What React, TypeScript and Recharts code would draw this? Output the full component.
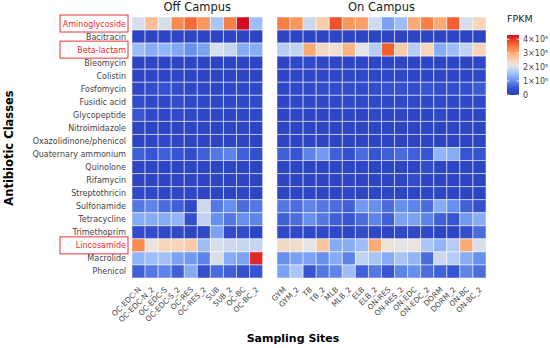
import { ScatterChart, Scatter, XAxis, YAxis } from "recharts";

// FPKM values are in units of 1e4
const classes = [
  "Aminoglycoside", "Bacitracin", "Beta-lactam", "Bleomycin", "Colistin",
  "Fosfomycin", "Fusidic acid", "Glycopeptide", "Nitroimidazole",
  "Oxazolidinone/phenicol", "Quaternary ammonium", "Quinolone", "Rifamycin",
  "Streptothricin", "Sulfonamide", "Tetracycline", "Trimethoprim",
  "Lincosamide", "Macrolide", "Phenicol",
];
const highlighted = ["Aminoglycoside", "Beta-lactam", "Lincosamide"];

const offSites = [
  "OC-EDC-N", "OC-EDC-N_2", "OC-EDC-S", "OC-EDC-S_2", "OC-RES",
  "OC-RES_2", "SUB", "SUB_2", "OC-BC", "OC-BC_2",
];
const onSites = [
  "GYM", "GYM_2", "TB", "TB_2", "MLB", "MLB_2", "ELB", "ELB_2",
  "ON-RES", "ON-RES_2", "ON-EDC", "ON-EDC_2", "DORM", "DORM_2", "ON-BC", "ON-BC_2",
];

const offValues = [
  [20, 28, 20, 33, 36, 32, 16, 34, 43, 15],
  [1, 1, 1, 1, 1, 1, 1, 1, 1, 1],
  [15, 13, 14, 12.5, 10, 12, 20, 18.5, 13, 13],
  [1, 1.5, 1, 1, 1, 1, 1, 1, 1, 1],
  [1.5, 1.5, 1, 1.5, 1.5, 1, 1, 1, 1, 1],
  [2, 3, 4, 3, 2, 2, 1.5, 2, 2, 2],
  [3, 2, 2, 3, 2, 2, 2, 2, 2, 2.5],
  [5, 2.5, 2, 2.5, 2, 2, 2, 1.5, 2, 2],
  [1, 1, 1, 1, 1, 1, 1, 1, 1, 1],
  [1.5, 1.5, 2.5, 1.5, 1, 1, 1, 1.5, 1, 1],
  [6, 5, 6, 5, 3, 6, 8, 9, 6, 4],
  [1.5, 1.5, 1, 1, 1, 1.5, 1, 1.5, 1, 1],
  [1, 1, 1, 1, 1, 1, 1, 1, 1, 1],
  [2, 2, 1.5, 2, 1.5, 1.5, 1, 1, 1.5, 1],
  [8, 9, 7, 6, 2, 19, 8, 10, 7, 8],
  [13, 13, 13, 14, 4, 18, 10, 8, 10, 9],
  [3, 3, 2, 2, 1, 2, 12, 3, 3, 1],
  [33, 22, 25, 25, 26, 15, 20, 19, 18.5, 18.5],
  [14, 15, 15.5, 12, 11, 9, 20, 13, 12, 41],
  [6, 8, 9, 6, 13, 4, 7, 6, 4, 5],
];

const onValues = [
  [34, 32, 19, 26, 38, 32, 31, 19.5, 12, 15, 30, 34, 30, 37, 20, 25],
  [1, 1, 1, 1, 1, 1, 1, 1, 1, 1, 1, 1, 1, 1, 1, 1],
  [17, 18, 30, 24, 23, 29, 21, 17, 37, 26, 17, 25, 13, 15, 18, 25],
  [1, 2, 2.5, 2, 1.5, 1.5, 1.5, 1.5, 1.5, 1.5, 1, 1.5, 1, 1.5, 1, 1.5],
  [1.5, 1.5, 2, 2, 1.5, 2, 2, 1.5, 2, 2, 1.5, 1.5, 1.5, 1.5, 1.5, 2],
  [2, 2, 2.5, 3, 2.5, 3, 2.5, 3, 4, 4, 3, 5, 3, 3.5, 3.5, 5.5],
  [1.5, 2, 2, 2, 2, 2.5, 2, 2, 2, 2, 2, 2, 2, 2, 2, 2],
  [1.5, 1.5, 1.5, 1.5, 1.5, 1.5, 1.5, 2, 1.5, 1.5, 1.5, 1.5, 2, 1.5, 1.5, 1.5],
  [1, 1, 1, 1, 1, 1, 1, 1, 1, 1, 1, 1, 1, 1, 1, 1],
  [1, 1, 1.5, 1, 1, 1, 1.5, 1, 1, 1, 1, 1.5, 1, 1, 1, 1],
  [6, 5, 9, 11, 6, 4, 7, 5, 6, 7, 6, 5, 14, 13, 5, 5],
  [1, 1, 1, 1, 1, 1, 1.5, 1, 1, 1, 1, 3, 1, 1, 1, 1],
  [1, 1, 1, 1, 1, 1.5, 1, 1, 1, 1, 3, 1, 1, 1, 1, 1],
  [1, 1, 1.5, 1, 1, 1.5, 1, 1.5, 1, 1, 1.5, 1, 1, 1, 1, 1],
  [8, 7, 9, 8, 7, 6, 11, 10, 7, 10, 9, 7, 13, 10, 6, 4],
  [6, 7, 10, 8, 6, 5, 7, 9, 6, 12, 12, 9, 6, 5, 11, 13],
  [2, 2, 2, 2, 2, 1, 3, 2, 1, 2, 2, 2, 1, 1, 4, 7],
  [24, 23.5, 21, 27, 13, 13, 15, 30, 22.5, 21, 22, 16, 14, 17, 30, 20],
  [10, 12, 12, 10, 13, 9, 18, 16, 13, 16, 14, 7, 19, 17, 13, 10],
  [12, 16, 5, 8, 9, 15, 6, 8, 5, 9, 10, 7, 6, 5, 9, 7],
];

const legendTicks = [0, 10, 20, 30, 40];
const legendLabels = ["0", "1×10⁵", "2×10⁵", "3×10⁵", "4×10⁵"];
const maxValue = 43;

// colour stops (value, colour)
const stops: [number, string][] = [
  [0, "#2a40bf"],
  [5, "#3754d2"],
  [10, "#6690ee"],
  [14, "#92b5f8"],
  [18, "#c2d3f2"],
  [21.5, "#e8e6e6"],
  [25, "#f8d4b8"],
  [29, "#f9b585"],
  [33, "#f88b4e"],
  [37, "#f2602f"],
  [43, "#d40d1f"],
];

function hex(c: string) {
  return [1, 3, 5].map((i) => parseInt(c.slice(i, i + 2), 16));
}

function colorFor(v: number) {
  if (v <= stops[0][0]) return stops[0][1];
  for (let i = 1; i < stops.length; i++) {
    if (v <= stops[i][0]) {
      const [v0, c0] = stops[i - 1];
      const [v1, c1] = stops[i];
      const t = (v - v0) / (v1 - v0);
      const a = hex(c0);
      const b = hex(c1);
      const m = a.map((x, k) => Math.round(x + (b[k] - x) * t));
      return `rgb(${m[0]},${m[1]},${m[2]})`;
    }
  }
  return stops[stops.length - 1][1];
}

const GAP = 1.1;
const onOffset = offSites.length + GAP;
const sitePositions = [
  ...offSites.map((_, i) => i),
  ...onSites.map((_, i) => onOffset + i),
];
const siteNames = [...offSites, ...onSites];
const xMax = onOffset + onSites.length - 0.5;

const offData = offValues.flatMap((row, r) =>
  row.map((v, c) => ({ x: c, y: r, v }))
);
const onData = onValues.flatMap((row, r) =>
  row.map((v, c) => ({ x: onOffset + c, y: r, v }))
);

const W = 550;
const H = 348;
const margin = { top: 17, right: 64, bottom: 10, left: 0 };
const Y_W = 132;
const X_H = 60;
const plotW = W - margin.left - margin.right - Y_W;
const plotH = H - margin.top - margin.bottom - X_H;
const cellW = plotW / (xMax + 0.5);
const cellH = plotH / classes.length;

function HeatCell(props: any) {
  const { cx, cy, payload } = props;
  return (
    <rect
      x={cx - cellW / 2}
      y={cy - cellH / 2}
      width={cellW}
      height={cellH}
      fill={colorFor(payload.v)}
      stroke="rgba(255,255,255,0.5)"
      strokeWidth={1}
    />
  );
}

function ClassTick(props: any) {
  const { y, payload } = props;
  const name = classes[payload.value];
  const hl = highlighted.includes(name);
  return (
    <g>
      {hl && (
        <rect x={60} y={y - 8.5} width={68} height={17} fill="none" stroke="#e8333a" strokeWidth={1} />
      )}
      <text
        x={126}
        y={y + 3}
        textAnchor="end"
        fontSize={8}
        fill={hl ? "#ee2a2a" : "#444"}
        fontFamily="DejaVu Sans"
      >
        {name}
      </text>
    </g>
  );
}

function SiteTick(props: any) {
  const { x, y, payload } = props;
  const idx = sitePositions.indexOf(payload.value);
  return (
    <text
      x={x + 3}
      y={y + 4}
      transform={`rotate(-45 ${x + 3} ${y + 4})`}
      textAnchor="end"
      fontSize={7.5}
      fill="#444"
      fontFamily="DejaVu Sans"
    >
      {siteNames[idx]}
    </text>
  );
}

export default function App() {
  const offCenter = margin.left + Y_W + (offSites.length / 2) * cellW;
  const onCenter = margin.left + Y_W + (onOffset + onSites.length / 2) * cellW;
  const barTop = 35;
  const barBottom = 95;
  const barX = 507;
  const yFor = (v: number) => barBottom - (v / maxValue) * (barBottom - barTop);

  return (
    <div style={{ position: "absolute", left: 0, top: 0, width: W, height: H, background: "#fff" }}>
      <ScatterChart width={W} height={H} margin={margin}>
        <XAxis
          type="number"
          dataKey="x"
          domain={[-0.5, xMax]}
          allowDataOverflow
          ticks={sitePositions}
          interval={0}
          tick={<SiteTick />}
          tickLine={false}
          axisLine={false}
          height={X_H}
        />
        <YAxis
          type="number"
          dataKey="y"
          domain={[-0.5, classes.length - 0.5]}
          allowDataOverflow
          reversed
          ticks={classes.map((_, i) => i)}
          interval={0}
          tick={<ClassTick />}
          tickLine={false}
          axisLine={false}
          width={Y_W}
        />
        <Scatter data={offData} shape={<HeatCell />} isAnimationActive={false} />
        <Scatter data={onData} shape={<HeatCell />} isAnimationActive={false} />
      </ScatterChart>
      <svg
        width={W}
        height={H}
        style={{ position: "absolute", left: 0, top: 0, pointerEvents: "none" }}
        fontFamily="DejaVu Sans"
      >
        <defs>
          <linearGradient id="fpkm" x1="0" y1="1" x2="0" y2="0">
            {stops.map(([v, c]) => (
              <stop key={v} offset={`${(v / maxValue) * 100}%`} stopColor={c} />
            ))}
          </linearGradient>
        </defs>
        <text x={offCenter} y={11} textAnchor="middle" fontSize={11.5} fill="#1a1a1a">
          Off Campus
        </text>
        <text x={onCenter} y={11} textAnchor="middle" fontSize={11.5} fill="#1a1a1a">
          On Campus
        </text>
        <text
          x={13}
          y={148}
          transform="rotate(-90 13 148)"
          textAnchor="middle"
          fontSize={11.5}
          fontWeight="bold"
          fill="#000"
        >
          Antibiotic Classes
        </text>
        <text x={293} y={342} textAnchor="middle" fontSize={11} fontWeight="bold" fill="#000">
          Sampling Sites
        </text>
        <text x={507} y={22} fontSize={9.5} fill="#222">
          FPKM
        </text>
        <rect x={barX} y={barTop} width={12} height={barBottom - barTop} fill="url(#fpkm)" />
        {legendTicks.map((t, i) => (
          <g key={t}>
            <line x1={barX} x2={barX + 2.5} y1={yFor(t)} y2={yFor(t)} stroke="#fff" strokeWidth={0.8} />
            <line x1={barX + 9.5} x2={barX + 12} y1={yFor(t)} y2={yFor(t)} stroke="#fff" strokeWidth={0.8} />
            <text x={523} y={yFor(t) + 3} fontSize={8} fill="#444">
              {legendLabels[i]}
            </text>
          </g>
        ))}
      </svg>
    </div>
  );
}
